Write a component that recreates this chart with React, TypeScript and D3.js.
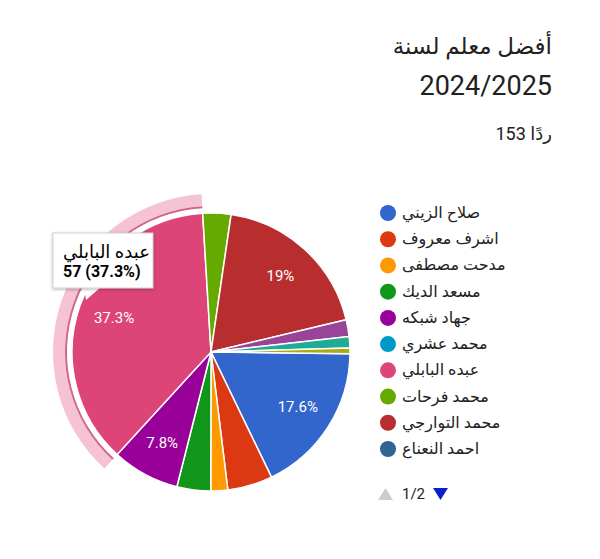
import React from "react";
import * as d3 from "d3";

// legend names (page 1 of 2)
const names = [
  "صلاح الزيني",
  "اشرف معروف",
  "مدحت مصطفى",
  "مسعد الديك",
  "جهاد شبكه",
  "محمد عشري",
  "عبده البابلي",
  "محمد فرحات",
  "محمد التوارجي",
  "احمد النعناع",
];
// vote counts; the last three belong to legend page 2 (names not visible)
const values = [27, 8, 3, 6, 12, 0, 57, 5, 29, 0, 3, 2, 1];
const colors = [
  "#3366cc", "#dc3912", "#ff9900", "#109618", "#990099", "#0099c6",
  "#dd4477", "#66aa00", "#b82e2e", "#316395", "#994499", "#22aa99", "#aaaa11",
];

const titleLines = ["أفضل معلم لسنة", "2024/2025"];
const subtitle = "153 ردًا";
const selected = 6;

const font = "Roboto, 'DejaVu Sans', sans-serif";

export default function App() {
  const width = 600;
  const height = 559;
  const cx = 211;
  const cy = 352;
  const r = 139;

  const total = d3.sum(values);
  const start = Math.PI / 2 + 0.012;
  const pie = d3
    .pie<number>()
    .sort(null)
    .startAngle(start)
    .endAngle(start + 2 * Math.PI)
    .value((d) => d);
  const arcs = pie(values);

  const arc = d3.arc<d3.PieArcDatum<number>>().innerRadius(0).outerRadius(r);
  const labelArc = d3
    .arc<d3.PieArcDatum<number>>()
    .innerRadius(r * 0.74)
    .outerRadius(r * 0.74);
  const ringLine = d3.arc<d3.PieArcDatum<number>>().innerRadius(r + 5).outerRadius(r + 7);
  const ringBand = d3.arc<d3.PieArcDatum<number>>().innerRadius(r + 7).outerRadius(r + 19);

  const fmt = (v: number) => {
    const p = (v / total) * 100;
    return (Math.round(p * 10) / 10).toString() + "%";
  };

  const legendY = d3.scaleLinear().domain([0, 9]).range([213, 449]);
  const sel = arcs[selected];

  return (
    <svg
      width={width}
      height={height}
      style={{ position: "absolute", left: 0, top: 0, background: "#fff" }}
      fontFamily={font}
    >
      <defs>
        <filter id="shadow" x="-20%" y="-20%" width="140%" height="150%">
          <feDropShadow dx="0" dy="1" stdDeviation="1.5" floodColor="#000" floodOpacity="0.3" />
        </filter>
      </defs>

      {/* title */}
      <text x={552} y={54} fontSize={23} fill="#212121" textAnchor="end">
        {titleLines[0]}
      </text>
      <text x={552} y={95} fontSize={27} fill="#212121" textAnchor="end">
        {titleLines[1]}
      </text>
      <text x={552} y={140} fontSize={18} fill="#212121" textAnchor="end">
        {subtitle}
      </text>

      {/* pie */}
      <g transform={`translate(${cx},${cy})`}>
        {arcs.map((a, i) =>
          a.value > 0 ? (
            <path key={i} d={arc(a) || ""} fill={colors[i]} stroke="#fff" strokeWidth={1.5} />
          ) : null
        )}
        {arcs.map((a, i) => {
          if (a.value / total < 0.07) return null;
          const [x, y] = labelArc.centroid(a);
          return (
            <text key={i} x={x} y={y + 5} fontSize={15} fill="#fff" textAnchor="middle">
              {fmt(a.value)}
            </text>
          );
        })}
      </g>

      {/* tooltip tail, under the selection ring */}
      <path d="M84,287 L101,287 L86,300 Z" fill="#fff" />

      <g transform={`translate(${cx},${cy})`}>
        <path d={ringBand(sel) || ""} fill="#f5c3d4" />
        <path d={ringLine(sel) || ""} fill="#d0668c" />
      </g>

      {/* tooltip */}
      <g>
        <rect x={53} y={233} width={100} height={55} fill="#fff" stroke="#d0d0d0" strokeWidth={1} filter="url(#shadow)" />
        <text x={63} y={258} fontSize={18} fill="#000">
          {names[selected]}
        </text>
        <text x={63} y={277} fontSize={16} fontWeight="bold" fill="#000">
          {`${values[selected]} (${fmt(values[selected])})`}
        </text>
      </g>

      {/* legend */}
      {names.map((n, i) => (
        <g key={i} transform={`translate(0,${legendY(i)})`}>
          <circle cx={388} cy={0} r={8} fill={colors[i]} />
          <text x={402} y={5} fontSize={16} fill="#222">
            {n}
          </text>
        </g>
      ))}

      {/* pager */}
      <path d="M378,500 L385.5,488 L393,500 Z" fill="#cccccc" />
      <text x={402} y={499} fontSize={15} fill="#222">
        1/2
      </text>
      <path d="M433,488 L448,488 L440.5,500 Z" fill="#0b1fc9" />
    </svg>
  );
}
